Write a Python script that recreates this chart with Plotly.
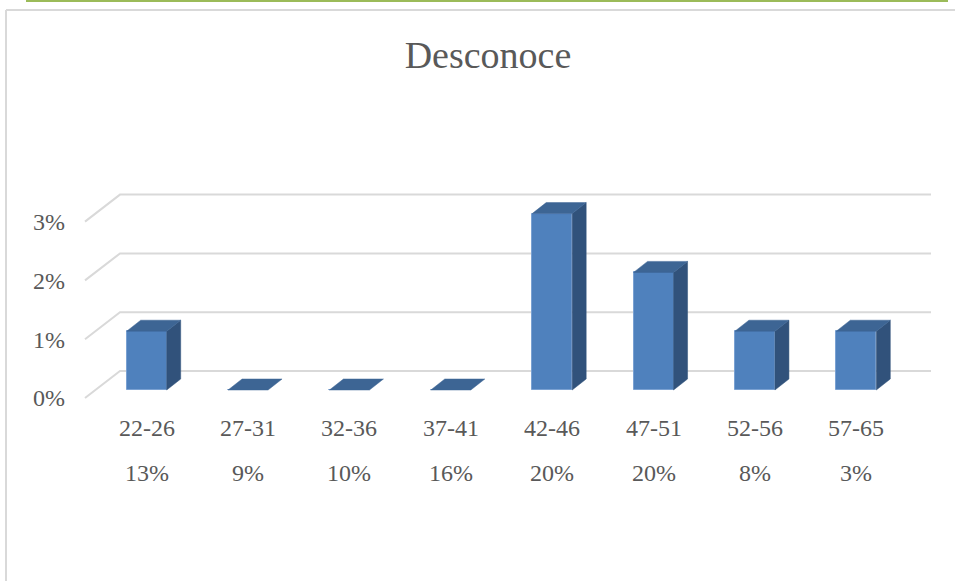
import plotly.graph_objects as go

# ---- data ----
categories = ["22-26", "27-31", "32-36", "37-41", "42-46", "47-51", "52-56", "57-65"]
category_shares = ["13%", "9%", "10%", "16%", "20%", "20%", "8%", "3%"]
values = [1, 0, 0, 0, 3, 2, 1, 1]          # percent
y_ticks = [0, 1, 2, 3]
y_tick_labels = ["0%", "1%", "2%", "3%"]
title_text = "Desconoce"

# ---- layout constants (pixels) ----
FIG_W, FIG_H = 955, 581
L = 66                      # plot-area left margin
W = FIG_W - L
XPX = 101.375               # px per category
YPX = 58.8                  # px per 1 %
X_LEFT_PX = 85              # floor-front left edge (x = -0.5)
Y0_PX = 398                 # floor-front zero line

x0 = -0.5 - (X_LEFT_PX - L) / XPX
x1 = x0 + W / XPX
y_top = Y0_PX / YPX
y_bot = -(FIG_H - Y0_PX) / YPX

# 3D offsets (data units)
DEPTH_X, DEPTH_Y = 35 / XPX, 27 / YPX          # full floor depth
FRONT_X, FRONT_Y = 11 / XPX, 8 / YPX           # bar front-face offset
BAR_DX, BAR_DY = 14 / XPX, 11 / YPX            # bar depth
BAR_W = 40 / XPX

n = len(categories)
GRID_COLOR = "#d9d9d9"
FRONT_COLOR = "#4f81bd"
SIDE_COLOR = "#31527b"
TOP_COLOR = "#3d6594"
TEXT_COLOR = "#595959"
FONT = "Liberation Serif"

fig = go.Figure()

# gridlines (side wall diagonal + back wall), drawn below the bars
grid_shapes = []
for v in y_ticks:
    path = (f"M {-0.5} {v} L {-0.5 + DEPTH_X} {v + DEPTH_Y} "
            f"L {n - 0.5 + DEPTH_X} {v + DEPTH_Y}")
    grid_shapes.append(dict(type="path", xref="x", yref="y", path=path, layer="below",
                            line=dict(color=GRID_COLOR, width=2)))

centers = [i + FRONT_X for i in range(n)]

# bars (front faces)
fig.add_trace(go.Bar(x=centers, y=values, base=[FRONT_Y] * n, width=BAR_W,
                     marker=dict(color=FRONT_COLOR, line=dict(color="#7aa1d2", width=1)),
                     showlegend=False, hoverinfo="skip"))

# side and top faces
side_x, side_y, top_x, top_y = [], [], [], []
for c, v in zip(centers, values):
    r = c + BAR_W / 2
    l = c - BAR_W / 2
    b = FRONT_Y
    t = v + FRONT_Y
    if v > 0:
        side_x += [r, r, r + BAR_DX, r + BAR_DX, r, None]
        side_y += [b, t, t + BAR_DY, b + BAR_DY, b, None]
    top_x += [l, r, r + BAR_DX, l + BAR_DX, l, None]
    top_y += [t, t, t + BAR_DY, t + BAR_DY, t, None]

fig.add_trace(go.Scatter(x=side_x, y=side_y, mode="lines", fill="toself",
                         fillcolor=SIDE_COLOR, line=dict(color=SIDE_COLOR, width=0.5),
                         hoverinfo="skip", showlegend=False))
fig.add_trace(go.Scatter(x=top_x, y=top_y, mode="lines", fill="toself",
                         fillcolor=TOP_COLOR, line=dict(color=TOP_COLOR, width=0.5),
                         hoverinfo="skip", showlegend=False))

# category labels (two rows)
row1_y = (Y0_PX - 428) / YPX
row2_y = (Y0_PX - 473) / YPX
for c, cat, share in zip(centers, categories, category_shares):
    fig.add_annotation(x=c, y=row1_y, xref="x", yref="y", text=cat, showarrow=False,
                       font=dict(family=FONT, size=24, color=TEXT_COLOR))
    fig.add_annotation(x=c, y=row2_y, xref="x", yref="y", text=share, showarrow=False,
                       font=dict(family=FONT, size=24, color=TEXT_COLOR))

# frame decorations (paper coords)
def px_x(p):
    return (p - L) / W

def px_y(p):
    return 1 - p / FIG_H

frame_shapes = [
    dict(type="line", xref="paper", yref="paper", x0=px_x(26), x1=px_x(948),
         y0=px_y(1), y1=px_y(1), line=dict(color="#9bbb59", width=2)),
    dict(type="line", xref="paper", yref="paper", x0=px_x(6), x1=px_x(956),
         y0=px_y(10), y1=px_y(10), line=dict(color=GRID_COLOR, width=2)),
    dict(type="line", xref="paper", yref="paper", x0=px_x(6), x1=px_x(6),
         y0=px_y(10), y1=px_y(582), line=dict(color=GRID_COLOR, width=2)),
]

fig.update_layout(
    width=FIG_W, height=FIG_H,
    margin=dict(l=L, r=0, t=0, b=0),
    paper_bgcolor="white", plot_bgcolor="white",
    shapes=grid_shapes + frame_shapes,
    title=dict(text=title_text, x=488 / FIG_W, xref="container", xanchor="center",
               y=1 - 55 / FIG_H, yref="container", yanchor="middle",
               font=dict(family=FONT, size=38, color=TEXT_COLOR)),
    xaxis=dict(range=[x0, x1], visible=False, fixedrange=True),
    yaxis=dict(range=[y_bot, y_top], showgrid=False, zeroline=False, showline=False,
               tickvals=y_ticks, ticktext=y_tick_labels, ticks="",
               tickfont=dict(family=FONT, size=24, color=TEXT_COLOR), fixedrange=True),
    bargap=0,
)

fig.write_html("out.html",
               config={"displayModeBar": False},
               post_script="document.body.style.margin='0px';"
                           "document.body.style.overflow='hidden';")
